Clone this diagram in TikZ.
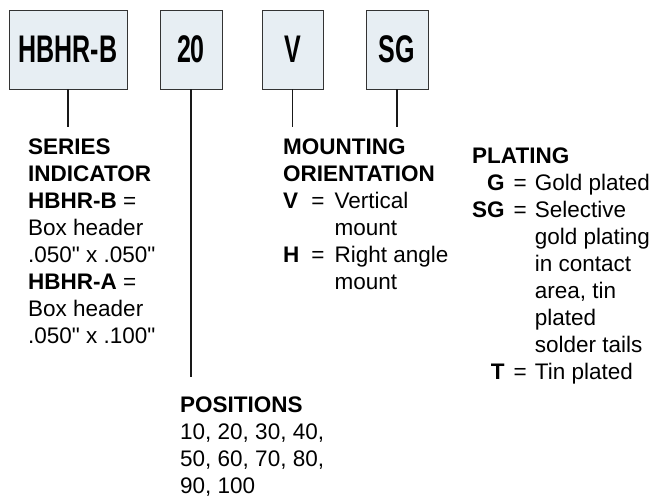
\documentclass[tikz,border=0pt]{standalone}
\usepackage{fontspec}
\setmainfont{Liberation Sans}
\newfontfamily\boxfont{Liberation Sans}[FakeStretch=0.65]
\usepackage{tikz}
\usetikzlibrary{positioning}

\begin{document}
\begin{tikzpicture}[x=1bp, y=-1bp, line cap=butt, line join=miter]
  % ---- Styles ----
  \tikzset{
    codebox/.style={draw=black!80, line width=0.9bp, fill=codefill,
      minimum height=79bp, inner sep=0pt,
      font=\boxfont\fontsize{38.5bp}{38.5bp}\selectfont\bfseries},
    lbl/.style={anchor=north west, inner sep=0pt,
      font=\fontsize{22.5bp}{27bp}\selectfont},
    lead/.style={line width=1.3bp, draw=black!90},
  }
  \definecolor{codefill}{HTML}{E7EEF3}
  \def\inch{\textquotedbl}

  % ---- Canvas ----
  \useasboundingbox (0,0) rectangle (669,497);

  % ---- Part number boxes ----
  \node[codebox, minimum width=118bp] (series) at (68,49.5)  {HBHR-B};
  \node[codebox, minimum width=62bp]  (pos)    at (191,49.5) {20};
  \node[codebox, minimum width=61bp]  (mount)  at (292.5,49.5) {V};
  \node[codebox, minimum width=62bp]  (plate)  at (397,49.5) {SG};

  % ---- Descriptions ----
  \node[lbl] (serieslbl) at (28,135.5) {%
    \begin{tabular}{@{}l@{}}
      \bfseries SERIES\\
      \bfseries INDICATOR\\
      \textbf{HBHR-B} =\\
      Box header\\
      .050\inch{} x .050\inch\\
      \textbf{HBHR-A} =\\
      Box header\\
      .050\inch{} x .100\inch
    \end{tabular}};

  \node[lbl] (poslbl) at (180,393) {%
    \begin{tabular}{@{}l@{}}
      \bfseries POSITIONS\\
      10, 20, 30, 40,\\
      50, 60, 70, 80,\\
      90, 100
    \end{tabular}};

  \node[lbl] (mountlbl) at (283,135.5) {%
    \begin{tabular}{@{}l@{\hspace{12bp}}c@{\hspace{10bp}}l@{}}
      \multicolumn{3}{@{}l@{}}{\bfseries MOUNTING}\\
      \multicolumn{3}{@{}l@{}}{\bfseries ORIENTATION}\\
      \bfseries V & = & Vertical\\
                  &   & mount\\
      \bfseries H & = & Right angle\\
                  &   & mount
    \end{tabular}};

  \node[lbl] (platelbl) at (472,144) {%
    \begin{tabular}{@{}r@{\hspace{9bp}}c@{\hspace{8bp}}l@{}}
      \multicolumn{3}{@{}l@{}}{\bfseries PLATING}\\
      \bfseries G  & = & Gold plated\\
      \bfseries SG & = & Selective\\
                   &   & gold plating\\
                   &   & in contact\\
                   &   & area, tin\\
                   &   & plated\\
                   &   & solder tails\\
      \bfseries T  & = & Tin plated
    \end{tabular}};

  % ---- Leader lines ----
  \draw[lead, shorten >=8.5bp] (series.south) -- (series.south |- serieslbl.north);
  \draw[lead, shorten >=16bp]  (pos.south)    -- (pos.south |- poslbl.north);
  \draw[lead, shorten >=8.5bp] (mount.south)  -- (mount.south |- mountlbl.north);
  \draw[lead, shorten >=17bp]  (plate.south)  -- (plate.south |- platelbl.north);

\end{tikzpicture}
\end{document}
